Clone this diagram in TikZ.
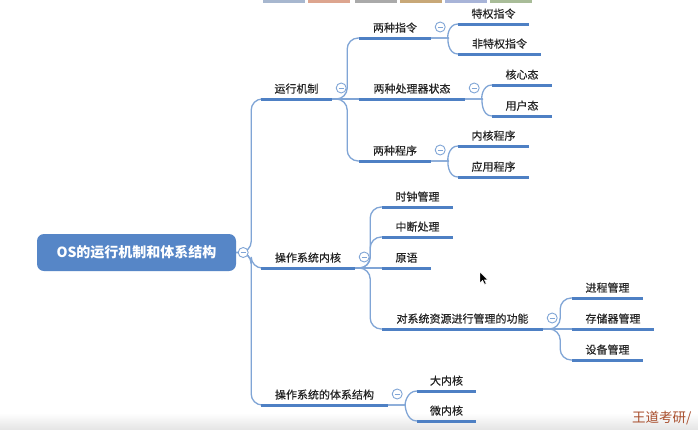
\documentclass[tikz,border=0pt]{standalone}
\usepackage{fontspec}
\newfontfamily\cjk[FakeBold=0.4]{Noto Sans CJK SC}
\newfontfamily\cjkw{Noto Sans CJK SC}
\definecolor{rtx}{RGB}{86,134,199}
\definecolor{ulx}{RGB}{78,128,196}
\definecolor{lnx}{RGB}{128,165,214}
\definecolor{wmx}{RGB}{168,78,45}
\definecolor{tba}{RGB}{167,183,207}
\definecolor{tbb}{RGB}{221,165,143}
\definecolor{tbc}{RGB}{170,170,170}
\definecolor{tbd}{RGB}{200,168,120}
\definecolor{tbe}{RGB}{168,180,216}
\definecolor{tbf}{RGB}{168,188,152}
\colorlet{txx}{black!86}
\tikzset{
    root/.style={rectangle,rounded corners=7pt,fill=rtx,text=white,
        font=\cjkw\bfseries\fontsize{14}{16}\selectfont,minimum width=199pt,minimum height=37pt},
    topic/.style={anchor=south,text=txx,font=\cjk\fontsize{11}{13}\selectfont,
        inner xsep=0pt,inner ysep=4pt,text height=9pt,text depth=2pt},
    uline/.style={ulx,line width=3pt},
    conn/.style={lnx,line width=1.3pt,rounded corners=11pt},
    fold/.style={circle,draw=lnx,fill=white,line width=0.9pt,inner sep=0pt,minimum size=10pt,
        path picture={\draw [lnx,line width=0.9pt]
            ([xshift=-2.5pt]path picture bounding box.center)
            -- ([xshift=2.5pt]path picture bounding box.center);}}
}
\begin{document}
\begin{tikzpicture}[x=1pt,y=-1pt]
    \clip (0,0) rectangle (698,429);
    \fill [white] (0,0) rectangle (698,429);
    \shade [top color=white,bottom color=black!10] (0,413) rectangle (698,429);
    \foreach \x/\c in {263/tba,308/tbb,355/tbc,400/tbd,445/tbe,490/tbf} {
        \fill [\c] (\x,0) rectangle ++(42,3);
    }
    % root
    \node [root] (os) at (136.5,252.5) {OS的运行机制和体系结构};
    % first level
    \node [topic,minimum width=71pt] (yx) at (296.5,99) {运行机制};
    \node [topic,minimum width=94pt] (nh) at (308,268) {操作系统内核};
    \node [topic,minimum width=127pt] (tx) at (324.5,405) {操作系统的体系结构};
    % second level
    \node [topic,minimum width=72pt] (zl) at (395,38) {两种指令};
    \node [topic,minimum width=106pt] (zt) at (412,99) {两种处理器状态};
    \node [topic,minimum width=72pt] (cx) at (395,161) {两种程序};
    \node [topic,minimum width=71pt] (sz) at (417.5,207) {时钟管理};
    \node [topic,minimum width=71pt] (zd) at (417.5,237) {中断处理};
    \node [topic,minimum width=49pt] (yy) at (406.5,268) {原语};
    \node [topic,minimum width=161pt] (zy) at (462.5,329) {对系统资源进行管理的功能};
    \node [topic,minimum width=59pt] (dn) at (446.5,391) {大内核};
    \node [topic,minimum width=59pt] (wn) at (446.5,421) {微内核};
    % third level
    \node [topic,minimum width=71pt] (tq) at (493.5,24) {特权指令};
    \node [topic,minimum width=83pt] (ft) at (499.5,54) {非特权指令};
    \node [topic,minimum width=60pt] (hx) at (522,85) {核心态};
    \node [topic,minimum width=60pt] (yh) at (522,116) {用户态};
    \node [topic,minimum width=71pt] (nc) at (493.5,146) {内核程序};
    \node [topic,minimum width=71pt] (yc) at (493.5,177) {应用程序};
    \node [topic,minimum width=71pt] (jc) at (607.5,298) {进程管理};
    \node [topic,minimum width=82pt] (cc) at (613,329) {存储器管理};
    \node [topic,minimum width=71pt] (sb) at (607.5,360) {设备管理};
    % connectors
    \foreach \c in {yx,nh,tx} {
        \draw [conn] (os.east) -- ++(15,0) |- (\c.south west);
    }
    \foreach \p/\c/\d in {yx/zl/15,yx/cx/15,nh/sz/15,nh/zd/15,nh/zy/15,zy/jc/17,zy/sb/17} {
        \draw [conn] (\p.south east) -- ++(\d,0) |- (\c.south west);
    }
    \foreach \p/\c in {zl/tq,zl/ft,zt/hx,zt/yh,cx/nc,cx/yc,tx/dn,tx/wn} {
        \draw [conn] (\p.south east) -- ++(6,0) to [out=0,in=180] (\c.south west);
    }
    \foreach \p/\c in {yx/zt,nh/yy,zy/cc} {
        \draw [conn] (\p.south east) -- (\c.south west);
    }
    \foreach \n in {yx,nh,tx,zl,zt,cx,sz,zd,yy,zy,dn,wn,tq,ft,hx,yh,nc,yc,jc,cc,sb} {
        \draw [uline] (\n.south west) -- (\n.south east);
    }
    % fold buttons
    \node [fold] (f0) at ([xshift=7pt]os.east) {};
    \foreach \n in {yx,nh,tx,zl,zt,cx,zy} {
        \node [fold] (f\n) at ([shift={(9pt,11pt)}]\n.south east) {};
    }
    % pointer
    \filldraw [black,draw=white,line width=0.4pt] (480,272) -- (480,283) -- (482.6,280.4)
        -- (484.6,284.4) -- (486.2,283.6) -- (484.3,279.8) -- (487.8,279.8) -- cycle;
    \node [anchor=west,text=wmx,font=\cjkw\fontsize{13.5}{15}\selectfont,inner sep=0pt]
        (wm) at (632,418) {王道考研/};
\end{tikzpicture}
\end{document}
